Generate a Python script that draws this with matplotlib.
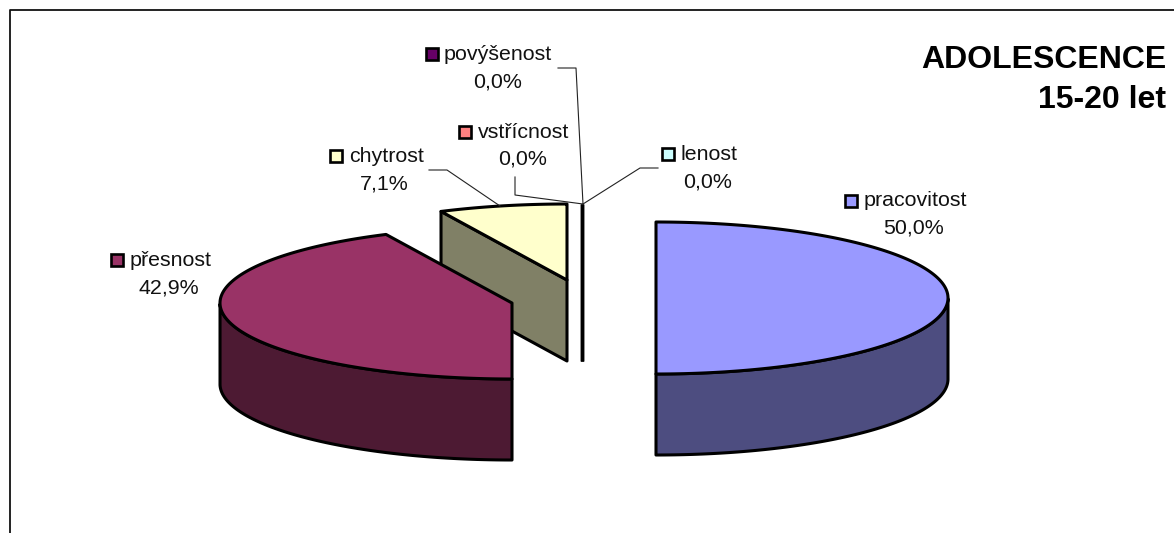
import numpy as np
import matplotlib
matplotlib.use("Agg")
import matplotlib.pyplot as plt
from matplotlib.patches import Polygon, Rectangle

plt.rcParams['font.family'] = ['Liberation Sans', 'DejaVu Sans']

# data, clockwise from 12 o'clock
categories = ['pracovitost', 'přesnost', 'chytrost', 'vstřícnost', 'povýšenost', 'lenost']
values = [50.0, 42.9, 7.1, 0.0, 0.0, 0.0]
title_lines = ['ADOLESCENCE', '15-20 let']

# colours
top_colors = ['#9999FF', '#993366', '#FFFFCC', '#FF8080', '#660066', '#CCFFFF']
side_colors = ['#4D4D80', '#4D1A33', '#808066', '#804040', '#330033', '#668080']

# layout in pixels
rx = 292
ry = 76
depth = 81
centers = {'pracovitost': (656, 298), 'přesnost': (512, 303), 'chytrost': (567, 280),
           'vstřícnost': (582, 280), 'povýšenost': (582, 280), 'lenost': (582, 280)}
# key x, key y, text left x, value centre x, value y
label_pos = {'pracovitost': (851, 201, 864, 914, 228),
             'přesnost': (117, 260, 130, 169, 288),
             'chytrost': (336, 156, 349, 384, 184),
             'vstřícnost': (465, 132, 478, 523, 159),
             'povýšenost': (432, 54, 444, 498, 82),
             'lenost': (668, 154, 680, 708, 182)}
leaders = {'chytrost': [(429, 170), (447, 170), (500, 206)],
           'vstřícnost': [(515, 177), (515, 195), (583, 204)],
           'povýšenost': [(558, 68), (576, 68), (583, 204)],
           'lenost': [(658, 168), (640, 168), (583, 204)]}

EDGE = 2.2
FS = 15.4


def rim(c, th):
    return np.column_stack([c[0] + rx * np.sin(th), c[1] - ry * np.cos(th)])


def draw_slice(ax, c, a0, a1, top, side, z):
    if a1 - a0 < 1e-9:
        # empty slice is only a thick line
        ax.plot([c[0], c[0]], [c[1] - ry, c[1] + depth], color='black', lw=2.4,
                solid_capstyle='butt', zorder=z)
        return
    th = np.linspace(a0, a1, 200)
    # cut faces
    for a, vis in ((a0, np.sin(a0) < -1e-6), (a1, np.sin(a1) > 1e-6)):
        if vis:
            p = rim(c, np.array([a]))[0]
            pts = [c, p, (p[0], p[1] + depth), (c[0], c[1] + depth)]
            ax.add_patch(Polygon(pts, fc=side, ec='black', lw=EDGE, joinstyle='round', zorder=z))
    # outer wall, front half only
    front = th[np.cos(th) <= 1e-9]
    if len(front) > 1:
        r = rim(c, front)
        pts = np.vstack([r, (r[::-1] + [0, depth])])
        ax.add_patch(Polygon(pts, fc=side, ec='black', lw=EDGE, joinstyle='round', zorder=z))
    pts = np.vstack([[c], rim(c, th)])
    ax.add_patch(Polygon(pts, fc=top, ec='black', lw=EDGE, joinstyle='round', zorder=z + 0.5))


fig = plt.figure(figsize=(11.74, 5.33), dpi=100)
ax = fig.add_axes([0, 0, 1, 1])
ax.set_xlim(0, 1174)
ax.set_ylim(533, 0)
ax.axis('off')

# frame
ax.plot([9.7, 9.7, 1174], [533, 10, 10], color='#111111', lw=1.3, zorder=1)

# slices
edges = np.radians(np.cumsum([0] + values) / sum(values) * 360)
order = {'chytrost': 2, 'přesnost': 3, 'pracovitost': 3, 'vstřícnost': 4, 'povýšenost': 4, 'lenost': 4}
for i, name in enumerate(categories):
    draw_slice(ax, centers[name], edges[i], edges[i + 1], top_colors[i], side_colors[i], order[name])

# leader lines
for name, pts in leaders.items():
    xs, ys = zip(*pts)
    ax.plot(xs, ys, color='#222222', lw=0.8, zorder=5)

# labels
for i, name in enumerate(categories):
    kx, ky, tx, vx, vy = label_pos[name]
    ax.add_patch(Rectangle((kx - 6, ky - 6), 12, 12, fc=top_colors[i], ec='black', lw=1.9, zorder=6))
    ax.text(tx, ky, name, fontsize=FS, ha='left', va='center', color='#111111', zorder=6)
    ax.text(vx, vy, '{:.1f}%'.format(values[i]).replace('.', ','), fontsize=FS,
            ha='center', va='center', color='#111111', zorder=6)

# title
ax.text(1166, 60.5, title_lines[0], fontsize=23, fontweight='bold', ha='right', va='center')
ax.text(1166, 99.5, title_lines[1], fontsize=23, fontweight='bold', ha='right', va='center')

fig.savefig('out.png', dpi=100, facecolor='white')
